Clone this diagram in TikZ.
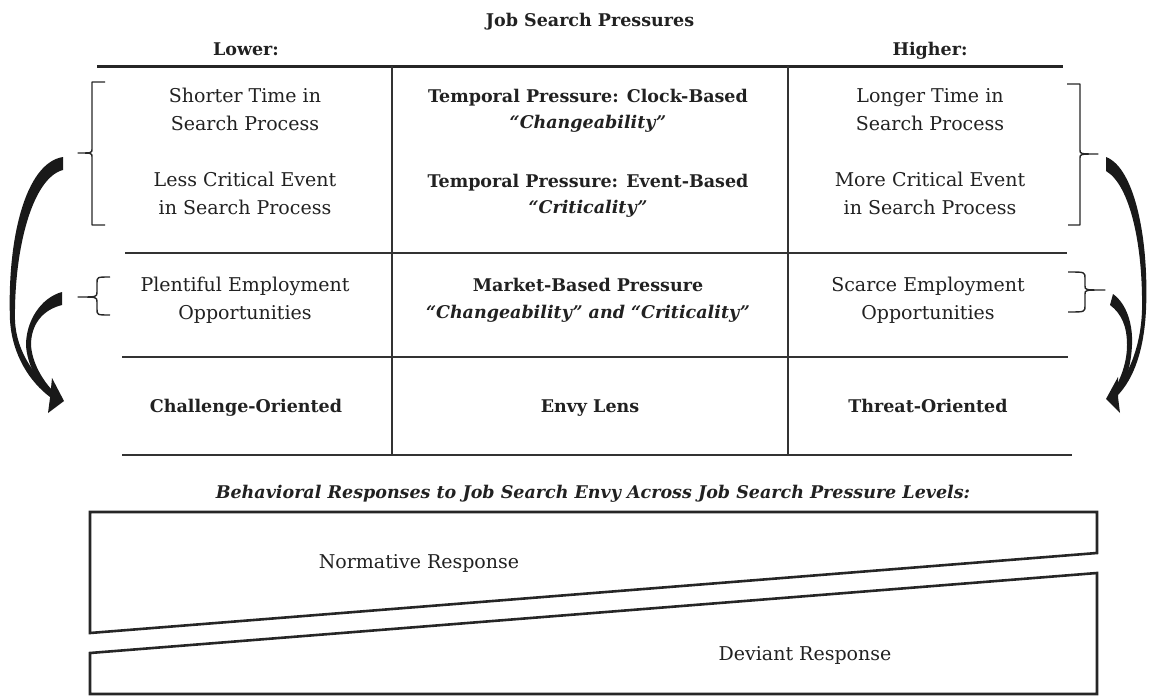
\documentclass[tikz,border=0pt]{standalone}
\usepackage{fontspec}
\setmainfont{DejaVu Serif}
\begin{document}
\begin{tikzpicture}[x=1pt,y=-1pt,
  rt/.style={font=\fontsize{19}{27}\selectfont, anchor=base, inner sep=0pt, text=black!87},
  bt/.style={font=\fontsize{17.5}{26}\selectfont\bfseries, anchor=base, inner sep=0pt, text=black!87},
  bit/.style={font=\fontsize{17.5}{26}\selectfont\bfseries\itshape, anchor=base, inner sep=0pt, text=black!87},
  rule/.style={line width=1.3pt, black!80},
  thick rule/.style={line width=3pt, black!85},
  brk/.style={line width=1.4pt, black!85, line join=round},
  shp/.style={line width=2.6pt, black!85, line join=miter},
  arr/.style={fill=black!90, draw=none}]
\useasboundingbox (0,0) rectangle (1152,696);

% header
\node[bt] (title) at (590,26) {Job Search Pressures};
\node[bt] (lower) at (246,55) {Lower:};
\node[bt] (higher) at (930,55) {Higher:};

% table lines
\draw[thick rule] (97,66) -- (1063,66);
\draw[rule] (392,66) -- (392,455);
\draw[rule] (788,66) -- (788,455);
\draw[rule] (125,253) -- (1067,253);
\draw[rule] (122,357) -- (1068,357);
\draw[rule] (122,455) -- (1072,455);

% row 1
\node[rt] (l1a) at (245,102) {Shorter Time in};
\node[rt] (l1b) at (245,130) {Search Process};
\node[rt] (l2a) at (245,186) {Less Critical Event};
\node[rt] (l2b) at (245,214) {in Search Process};
\node[bt] (m1a) at (588,102) {Temporal Pressure: Clock-Based};
\node[bit] (m1b) at (588,128) {“Changeability”};
\node[bt] (m2a) at (588,187) {Temporal Pressure: Event-Based};
\node[bit] (m2b) at (588,213) {“Criticality”};
\node[rt] (r1a) at (930,102) {Longer Time in};
\node[rt] (r1b) at (930,130) {Search Process};
\node[rt] (r2a) at (930,186) {More Critical Event};
\node[rt] (r2b) at (930,214) {in Search Process};

% row 2
\node[rt] (l3a) at (245,291) {Plentiful Employment};
\node[rt] (l3b) at (245,319) {Opportunities};
\node[bt] (m3a) at (588,291) {Market-Based Pressure};
\node[bit] (m3b) at (588,318) {“Changeability” and “Criticality”};
\node[rt] (r3a) at (928,291) {Scarce Employment};
\node[rt] (r3b) at (928,319) {Opportunities};

% row 3
\node[bt] (l4) at (246,412) {Challenge-Oriented};
\node[bt] (m4) at (590,412) {Envy Lens};
\node[bt] (r4) at (928,412) {Threat-Oriented};

% brackets left
\draw[brk] (105,82) -- (92,82) -- (92,149) .. controls (92,153) .. (78,153)
  .. controls (92,153) .. (92,157) -- (92,225) -- (105,225);
\draw[brk] (110,277) .. controls (97,277) .. (97,283) -- (97,292) .. controls (97,297) .. (78,297)
  .. controls (97,297) .. (97,302) -- (97,309) .. controls (97,315) .. (110,315);
% brackets right
\draw[brk] (1067,84) -- (1080,84) -- (1080,150) .. controls (1080,154) .. (1098,154)
  .. controls (1080,154) .. (1080,158) -- (1080,225) -- (1068,225);
\draw[brk] (1068,272) .. controls (1085,272) .. (1085,278) -- (1085,286) .. controls (1085,290) .. (1105,290)
  .. controls (1085,290) .. (1085,294) -- (1085,306) .. controls (1085,312) .. (1068,312);

% left arrows
\fill[arr] (63,157) .. controls (25,163) and (7,240) .. (10,320)
  .. controls (12,355) and (30,382) .. (50,397)
  -- (54,392) .. controls (36,378) and (16,352) .. (15,320)
  .. controls (14,250) and (32,178) .. (63,170) -- cycle;
\fill[arr] (62,292) .. controls (40,298) and (26,322) .. (26,345)
  .. controls (27,365) and (38,383) .. (50,396)
  -- (54,392) .. controls (42,380) and (32,362) .. (31,345)
  .. controls (31,325) and (42,310) .. (62,305) -- cycle;
\fill[arr] (52,378) -- (64,401) -- (48,413) -- (50,398) -- cycle;

% right arrows
\fill[arr] (1106,157) .. controls (1135,168) and (1149,240) .. (1146,310)
  .. controls (1144,350) and (1134,378) .. (1118,395)
  -- (1114,391) .. controls (1129,375) and (1141,345) .. (1142,310)
  .. controls (1143,245) and (1130,185) .. (1106,171) -- cycle;
\fill[arr] (1113,294) .. controls (1127,304) and (1133,325) .. (1132,345)
  .. controls (1131,366) and (1126,382) .. (1118,394)
  -- (1114,390) .. controls (1121,378) and (1127,362) .. (1127,345)
  .. controls (1127,327) and (1122,314) .. (1110,305) -- cycle;
\fill[arr] (1118,377) -- (1106,399) -- (1120,413) -- (1118,397) -- cycle;

% caption
\node[bit] (cap) at (593,498) {Behavioral Responses to Job Search Envy Across Job Search Pressure Levels:};

% bottom shapes
\draw[shp] (90,512) -- (1097,512) -- (1097,553) -- (90,633) -- cycle;
\draw[shp] (90,653) -- (1097,573) -- (1097,694) -- (90,694) -- cycle;
\node[rt] (norm) at (419,568) {Normative Response};
\node[rt] (dev) at (805,660) {Deviant Response};
\end{tikzpicture}
\end{document}
